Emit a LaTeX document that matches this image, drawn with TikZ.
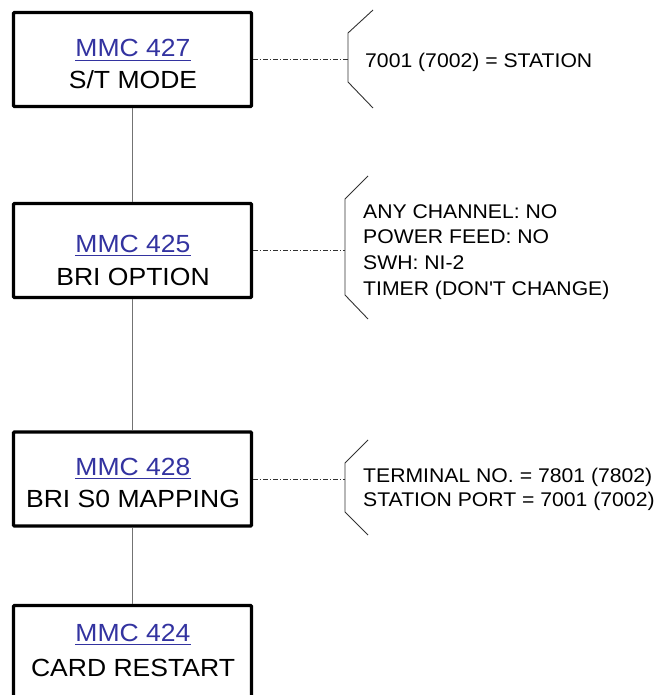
\documentclass[tikz,border=0pt]{standalone}
\usepackage{fontspec}
\setmainfont[FakeStretch=1.07]{Liberation Sans}
\definecolor{mmcblue}{RGB}{51,51,160}
\definecolor{flowgray}{RGB}{115,115,115}
\definecolor{brkgray}{RGB}{50,50,50}
\newcommand\mmcul[1]{\setbox0\hbox{#1}\rlap{\rule[-4.3pt]{\wd0}{1.5pt}}\box0}
\begin{document}
\begin{tikzpicture}[x=1pt,y=-1pt,
  box/.style={draw=black,line width=3.2pt,rounded corners=1pt,minimum width=238pt,minimum height=94pt,inner sep=0pt},
  flow/.style={draw=flowgray,line width=1.4pt},
  dd/.style={draw=brkgray,line width=0.8pt,dash pattern=on 5pt off 2pt on 1pt off 2pt},
  brk/.style={draw=brkgray,line width=0.9pt},
  mmc/.style={anchor=base,inner sep=0pt,text=mmcblue,font=\fontsize{24.8}{30}\selectfont},
  ttl/.style={anchor=base,inner sep=0pt,text=black,font=\fontsize{24.8}{30}\selectfont},
  side/.style={anchor=base west,inner sep=0pt,text=black,font=\fontsize{19.8}{25}\selectfont}]
\useasboundingbox (0,0) rectangle (658,695);
\clip (0,0) rectangle (658,695);
% boxes
\node[box] (b1) at (132.5,59.5) {};
\node[box] (b2) at (132.5,250.5) {};
\node[box] (b3) at (132.5,479) {};
\node[box] (b4) at (132.5,652.5) {};
% box texts
\node[mmc] (m1) at (133,57) {\mmcul{MMC 427}};
\node[ttl] (n1) at (133,89) {S/T MODE};
\node[mmc] (m2) at (133,252) {\mmcul{MMC 425}};
\node[ttl] (n2) at (133,285) {BRI OPTION};
\node[mmc] (m3) at (133,475) {\mmcul{MMC 428}};
\node[ttl] (n3) at (133,507) {BRI S0 MAPPING};
\node[mmc] (m4) at (133,641) {\mmcul{MMC 424}};
\node[ttl] (n4) at (133,676) {CARD RESTART};
% flow connectors
\draw[flow] (b1.south) -- (b2.north);
\draw[flow] (b2.south) -- (b3.north);
\draw[flow] (b3.south) -- (b4.north);
% bracket anchor points
\coordinate (k1) at (348,59.5);
\coordinate (k2) at (345,250.5);
\coordinate (k3) at (345,479);
\draw[dd] (b1.east) -- (k1);
\draw[dd] (b2.east) -- (k2);
\draw[dd] (b3.east) -- (k3);
% brackets
\draw[brk] (373,10) -- (348,33) -- (348,82) -- (373,108);
\draw[brk] (368,176) -- (345,199) -- (345,295) -- (368,319);
\draw[brk] (368,440) -- (345,463) -- (345,512) -- (368,535);
% side texts
\node[side] (s1) at (365,68) {7001 (7002) = STATION};
\node[side] (s2a) at (363,218) {ANY CHANNEL: NO};
\node[side] (s2b) at (363,243.5) {POWER FEED: NO};
\node[side] (s2c) at (363,269) {SWH: NI-2};
\node[side] (s2d) at (363,295) {TIMER (DON\textquotesingle T CHANGE)};
\node[side] (s3a) at (363,482) {TERMINAL NO. = 7801 (7802)};
\node[side] (s3b) at (363,506) {STATION PORT = 7001 (7002)};
\end{tikzpicture}
\end{document}
